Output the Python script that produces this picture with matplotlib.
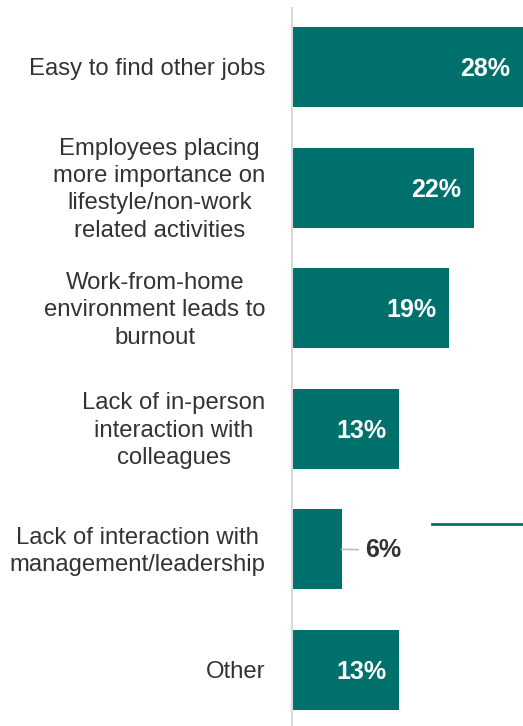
import matplotlib.pyplot as plt
from matplotlib.lines import Line2D

# Daten
kategorien = [
    "Easy to find other jobs",
    "Employees placing\nmore importance on\nlifestyle/non-work\nrelated activities",
    "Work-from-home\nenvironment leads to\nburnout",
    "Lack of in-person\ninteraction with\ncolleagues",
    "Lack of interaction with\nmanagement/leadership",
    "Other",
]
werte = [28, 22, 19, 13, 6, 13]

teal = "#00706c"
plt.rcParams['font.family'] = ['Liberation Sans', 'DejaVu Sans']

fig = plt.figure(figsize=(5.23, 7.26), dpi=100)
ax = fig.add_axes([292 / 523, 0, 231 / 523, 1 - 8 / 726])

y = list(range(len(werte)))
ax.barh(y, werte, height=0.663, color=teal)
ax.set_xlim(0, 28)
ax.set_ylim(5.465, -0.49)

# Beschriftungen links
for i, k in enumerate(kategorien):
    ax.annotate(k, xy=(0, i), xytext=(-19, -1.5), textcoords='offset points',
                ha='right', va='center', multialignment='center',
                fontsize=17.2, color='#333333', linespacing=1.32,
                annotation_clip=False)

# Prozentwerte
for i, w in enumerate(werte):
    if w >= 10:
        ax.annotate(f"{w}%", xy=(w, i), xytext=(-9, -1.5), textcoords='offset points',
                    ha='right', va='center', fontsize=18, fontweight='bold', color='white')
    else:
        ax.annotate(f"{w}%", xy=(w, i), xytext=(17, -0.5), textcoords='offset points',
                    ha='left', va='center', fontsize=18, fontweight='bold', color='#333333',
                    arrowprops=dict(arrowstyle='-', color='#bfbfbf', lw=1.2,
                                    shrinkA=3, shrinkB=0))

# Achsen
for s in ['top', 'right', 'bottom']:
    ax.spines[s].set_visible(False)
ax.spines['left'].set_color('#d9d9d9')
ax.spines['left'].set_linewidth(1.5)
ax.set_xticks([])
ax.set_yticks([])

# kleine Linie rechts (Legendenrest)
fig.add_artist(Line2D([432 / 523, 1], [1 - 524 / 726, 1 - 524 / 726],
                      color=teal, lw=2))

fig.savefig("out.png", dpi=100)
